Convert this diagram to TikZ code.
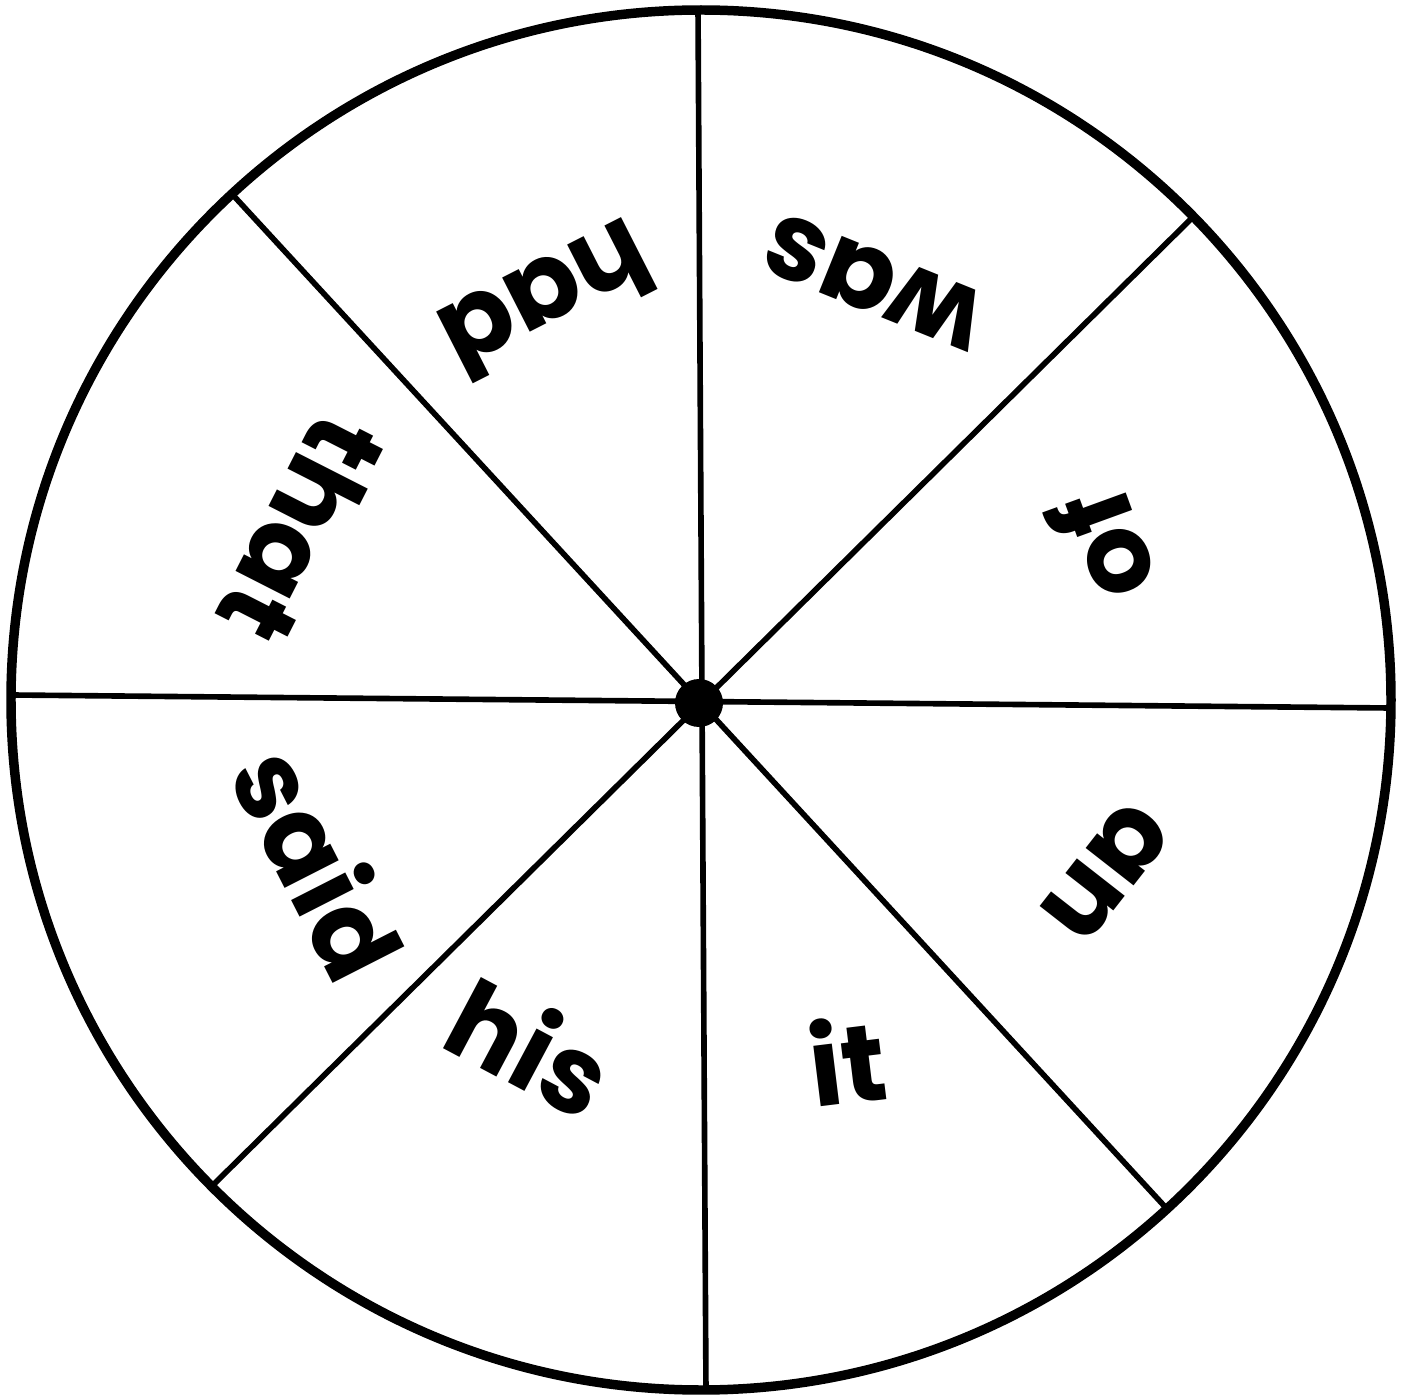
\documentclass[tikz,border=0pt]{standalone}
\usepackage{fontspec}
\setmainfont{Poppins}
\tikzset{
	rim/.style={line width=2.7pt},
	spoke/.style={line width=1.6pt},
	word/.style={font=\fontsize{31}{31}\selectfont\bfseries, inner sep=0pt},
}
\begin{document}
\begin{tikzpicture}[scale=1.0]
	\useasboundingbox (0,0) rectangle (14.08,13.99);
	% spoke ends on the rim
	\coordinate (top) at (6.98,13.92);
	\coordinate (bottom) at (7.06,0.06);
	\coordinate (left) at (0.12,7.04);
	\coordinate (right) at (13.90,6.91);
	\coordinate (nw) at (2.32,12.05);
	\coordinate (se) at (11.68,1.89);
	\coordinate (ne) at (11.93,11.82);
	\coordinate (sw) at (2.10,2.11);
	\draw[spoke] (top) -- (bottom);
	\draw[spoke] (left) -- (right);
	\draw[spoke] (nw) -- (se);
	\draw[spoke] (ne) -- (sw);
	\draw[rim] (7.01,6.99) circle (6.9);
	\fill (6.99,6.96) circle (0.24);
	% the eight words
	\node[word, rotate=158] (was) at (8.74,11.17) {was};
	\node[word, rotate=207] (had) at (5.47,10.99) {had};
	\node[word, rotate=243] (that) at (3.02,8.69) {that};
	\node[word, rotate=-63] (said) at (3.20,5.37) {said};
	\node[word, rotate=-28] (his) at (5.31,3.53) {his};
	\node[word, rotate=7] (it) at (8.47,3.39) {it};
	\node[word, rotate=232] (an) at (11.06,5.27) {an};
	\node[word, rotate=110] (of) at (11.01,8.52) {of};
\end{tikzpicture}
\end{document}
